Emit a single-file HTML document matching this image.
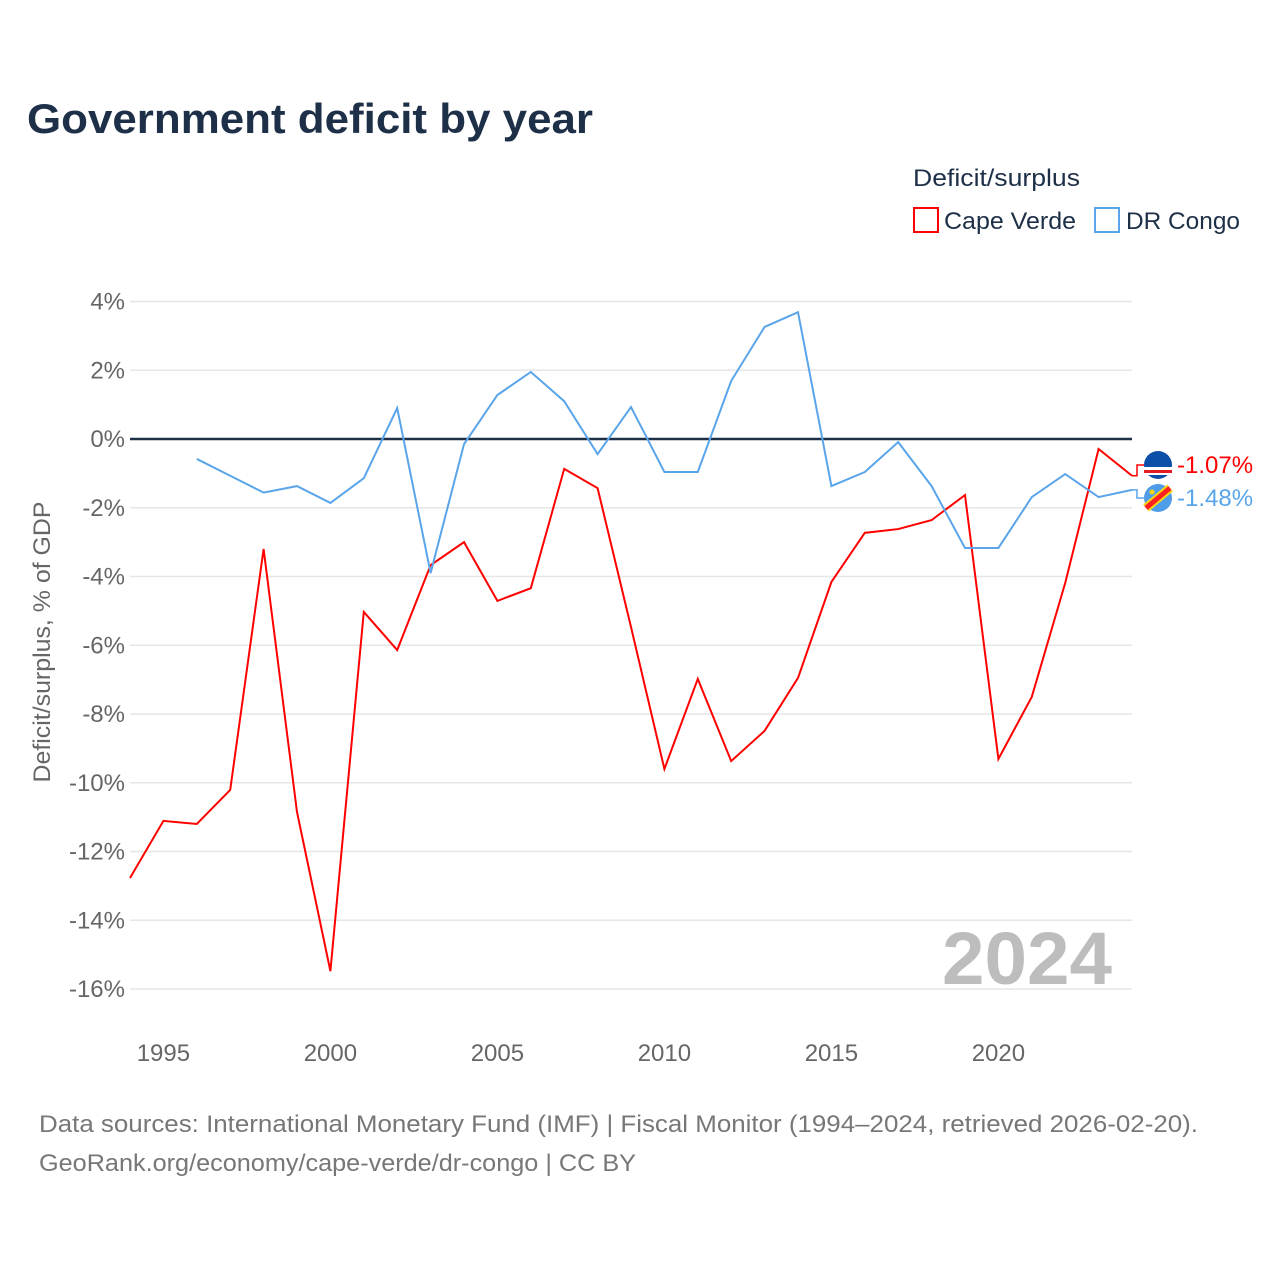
<!DOCTYPE html>
<html><head><meta charset="utf-8">
<style>
html,body{margin:0;padding:0;background:#fff;}
svg{display:block;font-family:"Liberation Sans",sans-serif;}
</style></head>
<body>
<svg id="chart" width="1280" height="1280" viewBox="0 0 1280 1280">
  <text x="27" y="133" font-size="42" font-weight="bold" fill="#1e2f48" textLength="566" lengthAdjust="spacingAndGlyphs">Government deficit by year</text>
  <text x="913" y="186" font-size="24" fill="#1e2f48" textLength="167" lengthAdjust="spacingAndGlyphs">Deficit/surplus</text>
  <g>
    <rect x="914" y="208" width="24" height="24" fill="none" stroke="#ff0000" stroke-width="2"/>
    <text x="944" y="229" font-size="24" fill="#1e2f48" textLength="132" lengthAdjust="spacingAndGlyphs">Cape Verde</text>
  </g>
  <g>
    <rect x="1095" y="208" width="24" height="24" fill="none" stroke="#5aa5ea" stroke-width="2"/>
    <text x="1126" y="229" font-size="24" fill="#1e2f48" textLength="114" lengthAdjust="spacingAndGlyphs">DR Congo</text>
  </g>
  <text transform="translate(50,642) rotate(-90)" text-anchor="middle" font-size="24" fill="#666" textLength="281" lengthAdjust="spacingAndGlyphs">Deficit/surplus, % of GDP</text>
  <g id="grid"></g>
  <g id="yticks"></g>
  <g id="xticks"></g>
  <text x="1112" y="984" text-anchor="end" font-size="74" font-weight="bold" fill="#bdbdbd" textLength="170" lengthAdjust="spacingAndGlyphs">2024</text>
  <g id="series"></g>
  <g id="endlabels"></g>
  <text x="39" y="1132" font-size="24" fill="#777" textLength="1159" lengthAdjust="spacingAndGlyphs">Data sources: International Monetary Fund (IMF) | Fiscal Monitor (1994–2024, retrieved 2026-02-20).</text>
  <text x="39" y="1171" font-size="24" fill="#777" textLength="597" lengthAdjust="spacingAndGlyphs">GeoRank.org/economy/cape-verde/dr-congo | CC BY</text>
</svg>
<script>
const capeYears = [1994,1995,1996,1997,1998,1999,2000,2001,2002,2003,2004,2005,2006,2007,2008,2009,2010,2011,2012,2013,2014,2015,2016,2017,2018,2019,2020,2021,2022,2023,2024];
const capeValues = [-12.77,-11.11,-11.2,-10.21,-3.2,-10.85,-15.48,-5.03,-6.14,-3.67,-3.0,-4.71,-4.34,-0.87,-1.43,-5.47,-9.6,-6.98,-9.37,-8.49,-6.95,-4.16,-2.73,-2.62,-2.36,-1.63,-9.31,-7.5,-4.19,-0.29,-1.07];
const congoYears = [1996,1997,1998,1999,2000,2001,2002,2003,2004,2005,2006,2007,2008,2009,2010,2011,2012,2013,2014,2015,2016,2017,2018,2019,2020,2021,2022,2023,2024];
const congoValues = [-0.58,-1.07,-1.56,-1.37,-1.86,-1.14,0.9,-3.9,-0.15,1.28,1.95,1.1,-0.44,0.93,-0.96,-0.96,1.69,3.26,3.69,-1.37,-0.96,-0.09,-1.37,-3.17,-3.17,-1.69,-1.02,-1.69,-1.48];
const yTickValues = [4,2,0,-2,-4,-6,-8,-10,-12,-14,-16];
const xTickYears = [1995,2000,2005,2010,2015,2020];

const NS="http://www.w3.org/2000/svg";
const X0=130,X1=1132,Y0yr=1994,Y1yr=2024;
const xs=yr=>X0+(yr-Y0yr)*(X1-X0)/(Y1yr-Y0yr);
const ys=v=>439-v*34.375;
function mk(tag,attrs,parent){const e=document.createElementNS(NS,tag);for(const k in attrs)e.setAttribute(k,attrs[k]);parent.appendChild(e);return e;}
const fmt=v=>(v<0?"-":"")+Math.abs(v)+"%";

const grid=document.getElementById('grid'),yt=document.getElementById('yticks'),xt=document.getElementById('xticks');
yTickValues.forEach(v=>{
  const l=mk('line',{x1:X0,x2:X1,y1:ys(v),y2:ys(v),stroke:v===0?'#1e2f48':'#e6e6e6','stroke-width':v===0?2.5:1.5},grid);
  
  
  const t=mk('text',{x:125,y:ys(v)+8,'text-anchor':'end','font-size':24,fill:'#666'},yt);
  t.textContent=fmt(v);
  
  
});
xTickYears.forEach(yr=>{
  const t=mk('text',{x:xs(yr),y:1061,'text-anchor':'middle','font-size':24,fill:'#666'},xt);
  t.textContent=yr;
  
  
});
const ser=document.getElementById('series');
function line(years,vals,color,name){
  const p=mk('polyline',{points:years.map((y,i)=>xs(y)+','+ys(vals[i])).join(' '),fill:'none',stroke:color,'stroke-width':2,'stroke-linejoin':'miter'},ser);
  
  
}
line(capeYears,capeValues,'#ff0000','cape-verde-line');
line(congoYears,congoValues,'#5aa5ea','dr-congo-line');

const el=document.getElementById('endlabels');
function endLabel(years,vals,color,labelY,name,flag){
  const lx=xs(years[years.length-1]),ly=ys(vals[vals.length-1]);
  const c=mk('polyline',{points:`${lx},${ly} ${lx+5},${ly} ${lx+5},${labelY} ${lx+12},${labelY}`,fill:'none',stroke:color,'stroke-width':1.5},el);
  
  
  const g=mk('g',{},el);
  
  
  flag(g,1158,labelY);
  const t=mk('text',{x:1177,y:labelY+8,'font-size':24,fill:color},el);
  t.textContent=fmt(vals[vals.length-1]);
  
  
}
endLabel(capeYears,capeValues,'#ff0000',465,'cape-verde',(g,cx,cy)=>{
  mk('circle',{cx,cy,r:14,fill:'#0b4fa8'},g);
  mk('rect',{x:cx-14,y:cy+2,width:28,height:3,fill:'#fff'},g);
  mk('rect',{x:cx-14,y:cy+5,width:28,height:3,fill:'#e31b23'},g);
  mk('rect',{x:cx-14,y:cy+8,width:28,height:2,fill:'#fff'},g);
});
endLabel(congoYears,congoValues,'#5aa5ea',498,'dr-congo',(g,cx,cy)=>{
  mk('circle',{cx,cy,r:14,fill:'#4f9ce8'},g);
  mk('line',{x1:cx-12,y1:cy+10,x2:cx+12,y2:cy-10,stroke:'#f7d618','stroke-width':9},g);
  mk('line',{x1:cx-12,y1:cy+10,x2:cx+12,y2:cy-10,stroke:'#ff2020','stroke-width':5},g);
  mk('circle',{cx:cx-6,cy:cy-6,r:2.5,fill:'#f7d618'},g);
});
</script>
</body></html>
